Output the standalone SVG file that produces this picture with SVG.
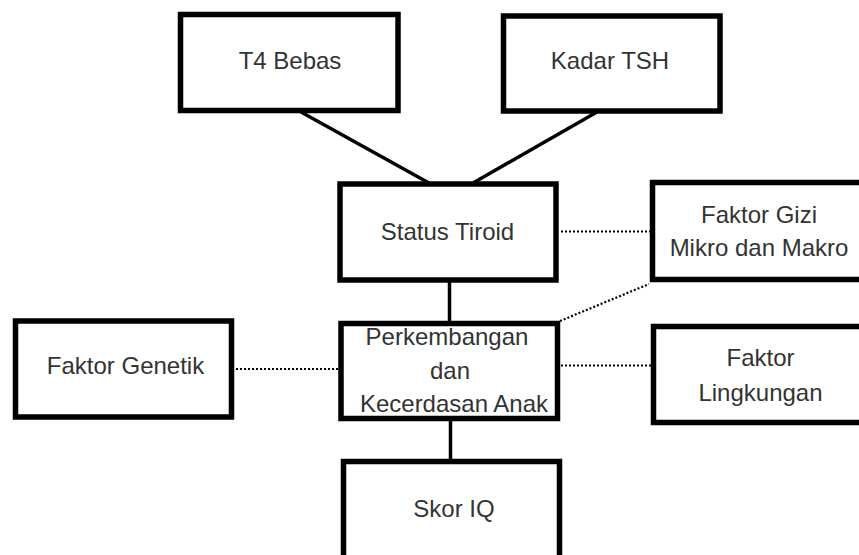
<svg xmlns="http://www.w3.org/2000/svg" width="859" height="555" viewBox="0 0 859 555">
<style>
.box{fill:#fff;stroke:#000;stroke-width:5.5}
.t{font-family:"Liberation Sans",Arial,sans-serif;font-size:24px;fill:#333;text-anchor:middle}
.solid{stroke:#000;stroke-width:3.5;fill:none}
.dot{stroke:#000;stroke-width:2.2;stroke-dasharray:2 2;fill:none}
</style>
<rect width="859" height="555" fill="#fff"/>
<g id="connectors">
<line class="solid" x1="301" y1="112" x2="429" y2="183"/>
<line class="solid" x1="597" y1="112" x2="473" y2="183"/>
<line class="solid" x1="449.5" y1="280" x2="449.5" y2="322"/>
<line class="solid" x1="450.5" y1="420" x2="450.5" y2="460"/>
<line class="dot" x1="561" y1="231.5" x2="650" y2="231.5"/>
<line class="dot" x1="560" y1="321" x2="649" y2="284"/>
<line class="dot" x1="236" y1="369" x2="339" y2="369"/>
<line class="dot" x1="561" y1="365.5" x2="651" y2="365.5"/>
</g>
<g id="t4">
<rect class="box" x="180.5" y="14.5" width="217.5" height="96"/>
<text class="t" x="290" y="69">T4 Bebas</text>
</g>
<g id="tsh">
<rect class="box" x="503.5" y="16" width="216.5" height="95"/>
<text class="t" x="610" y="69">Kadar TSH</text>
</g>
<g id="status">
<rect class="box" x="340" y="184" width="216" height="96"/>
<text class="t" x="447.5" y="240">Status Tiroid</text>
</g>
<g id="gizi">
<rect class="box" x="652.5" y="182.5" width="220" height="97"/>
<text class="t" x="759" y="222.5">Faktor Gizi</text>
<text class="t" x="759" y="256">Mikro dan Makro</text>
</g>
<g id="genetik">
<rect class="box" x="15.5" y="321" width="216" height="96"/>
<text class="t" x="125.5" y="374">Faktor Genetik</text>
</g>
<g id="perkembangan">
<rect class="box" x="341" y="323.5" width="216.5" height="95"/>
<text class="t" x="447" y="345">Perkembangan</text>
<text class="t" x="450" y="379">dan</text>
<text class="t" x="454" y="411.5">Kecerdasan Anak</text>
</g>
<g id="lingkungan">
<rect class="box" x="653.5" y="326.5" width="220" height="96"/>
<text class="t" x="760.5" y="366">Faktor</text>
<text class="t" x="760.5" y="400.5">Lingkungan</text>
</g>
<g id="skor">
<rect class="box" x="343.5" y="461.5" width="216" height="110"/>
<text class="t" x="454" y="516.5">Skor IQ</text>
</g>
</svg>
